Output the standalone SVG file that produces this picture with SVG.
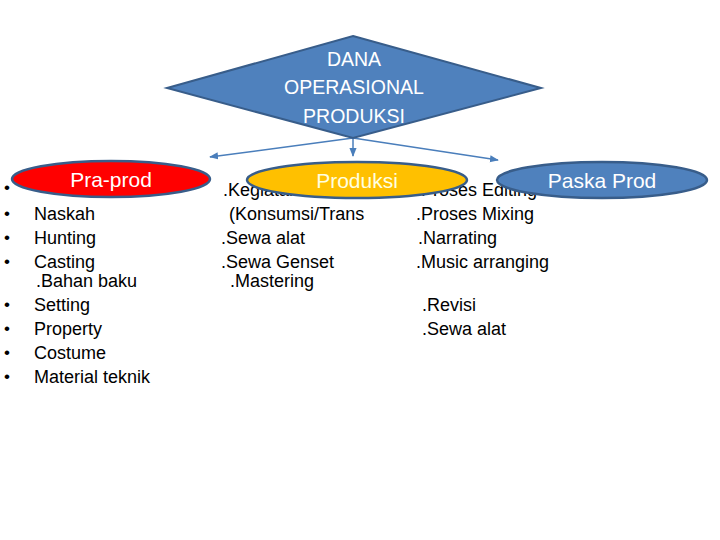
<svg xmlns="http://www.w3.org/2000/svg" width="720" height="540" viewBox="0 0 720 540">
<style>
.t{font-family:"Liberation Sans",Arial,sans-serif;font-size:18px;fill:#000}
.b{font-family:"Liberation Sans",Arial,sans-serif;font-size:17px;fill:#000}
.w{font-family:"Liberation Sans",Arial,sans-serif;fill:#fff;text-anchor:middle}
.c{stroke:#4A7EBB;stroke-width:1.5;fill:none}
</style>
<defs>
<marker id="a" viewBox="0 0 10 10" refX="9" refY="5" markerWidth="6" markerHeight="6" orient="auto"><path d="M0,1 L10,5 L0,9 z" fill="#4A7EBB"/></marker>
</defs>
<rect width="720" height="540" fill="#fff"/>
<g id="list-praprod">
<text class="b" x="4" y="193">•</text>
<text class="b" x="4" y="219">•</text><text class="t" x="34" y="220">Naskah</text>
<text class="b" x="4" y="243">•</text><text class="t" x="34" y="244">Hunting</text>
<text class="b" x="4" y="267">•</text><text class="t" x="34" y="268">Casting</text>
<text class="t" x="36" y="287">.Bahan baku</text>
<text class="b" x="4" y="310">•</text><text class="t" x="34" y="311">Setting</text>
<text class="b" x="4" y="334">•</text><text class="t" x="34" y="335">Property</text>
<text class="b" x="4" y="358">•</text><text class="t" x="34" y="359">Costume</text>
<text class="b" x="4" y="382">•</text><text class="t" x="34" y="383">Material teknik</text>
</g>
<g id="list-produksi">
<text class="t" x="223" y="196">.Kegiatan</text>
<text class="t" x="229" y="220">(Konsumsi/Trans</text>
<text class="t" x="221" y="244">.Sewa alat</text>
<text class="t" x="221" y="268">.Sewa Genset</text>
<text class="t" x="230" y="287">.Mastering</text>
</g>
<g id="list-paska">
<text class="t" x="416" y="196">.Proses Editing</text>
<text class="t" x="416" y="220">.Proses Mixing</text>
<text class="t" x="418" y="244">.Narrating</text>
<text class="t" x="416" y="268">.Music arranging</text>
<text class="t" x="422" y="311">.Revisi</text>
<text class="t" x="422" y="335">.Sewa alat</text>
</g>
<g id="connectors">
<line class="c" x1="353" y1="138" x2="210" y2="157" marker-end="url(#a)"/>
<line class="c" x1="353" y1="138" x2="353" y2="156" marker-end="url(#a)"/>
<line class="c" x1="353" y1="138" x2="498" y2="160" marker-end="url(#a)"/>
</g>
<g id="dana">
<polygon points="353,36 541,88 353,138 167,88" fill="#4F81BD" stroke="#385D8A" stroke-width="2"/>
<text class="w" font-size="19.5" x="354" y="66">DANA</text>
<text class="w" font-size="19.5" x="354" y="94">OPERASIONAL</text>
<text class="w" font-size="19.5" x="354" y="123">PRODUKSI</text>
</g>
<g id="praprod">
<ellipse cx="111" cy="179" rx="99" ry="18" fill="#FF0000" stroke="#385D8A" stroke-width="2.5"/>
<text class="w" font-size="21" x="111" y="187">Pra-prod</text>
</g>
<g id="produksi">
<ellipse cx="357" cy="180" rx="110" ry="18" fill="#FFC000" stroke="#385D8A" stroke-width="2.5"/>
<text class="w" font-size="21" x="357" y="188" style="fill:#FFFFE0">Produksi</text>
</g>
<g id="paska">
<ellipse cx="602" cy="180" rx="105" ry="18" fill="#4F81BD" stroke="#385D8A" stroke-width="2.5"/>
<text class="w" font-size="21" x="602" y="188">Paska Prod</text>
</g>
</svg>
